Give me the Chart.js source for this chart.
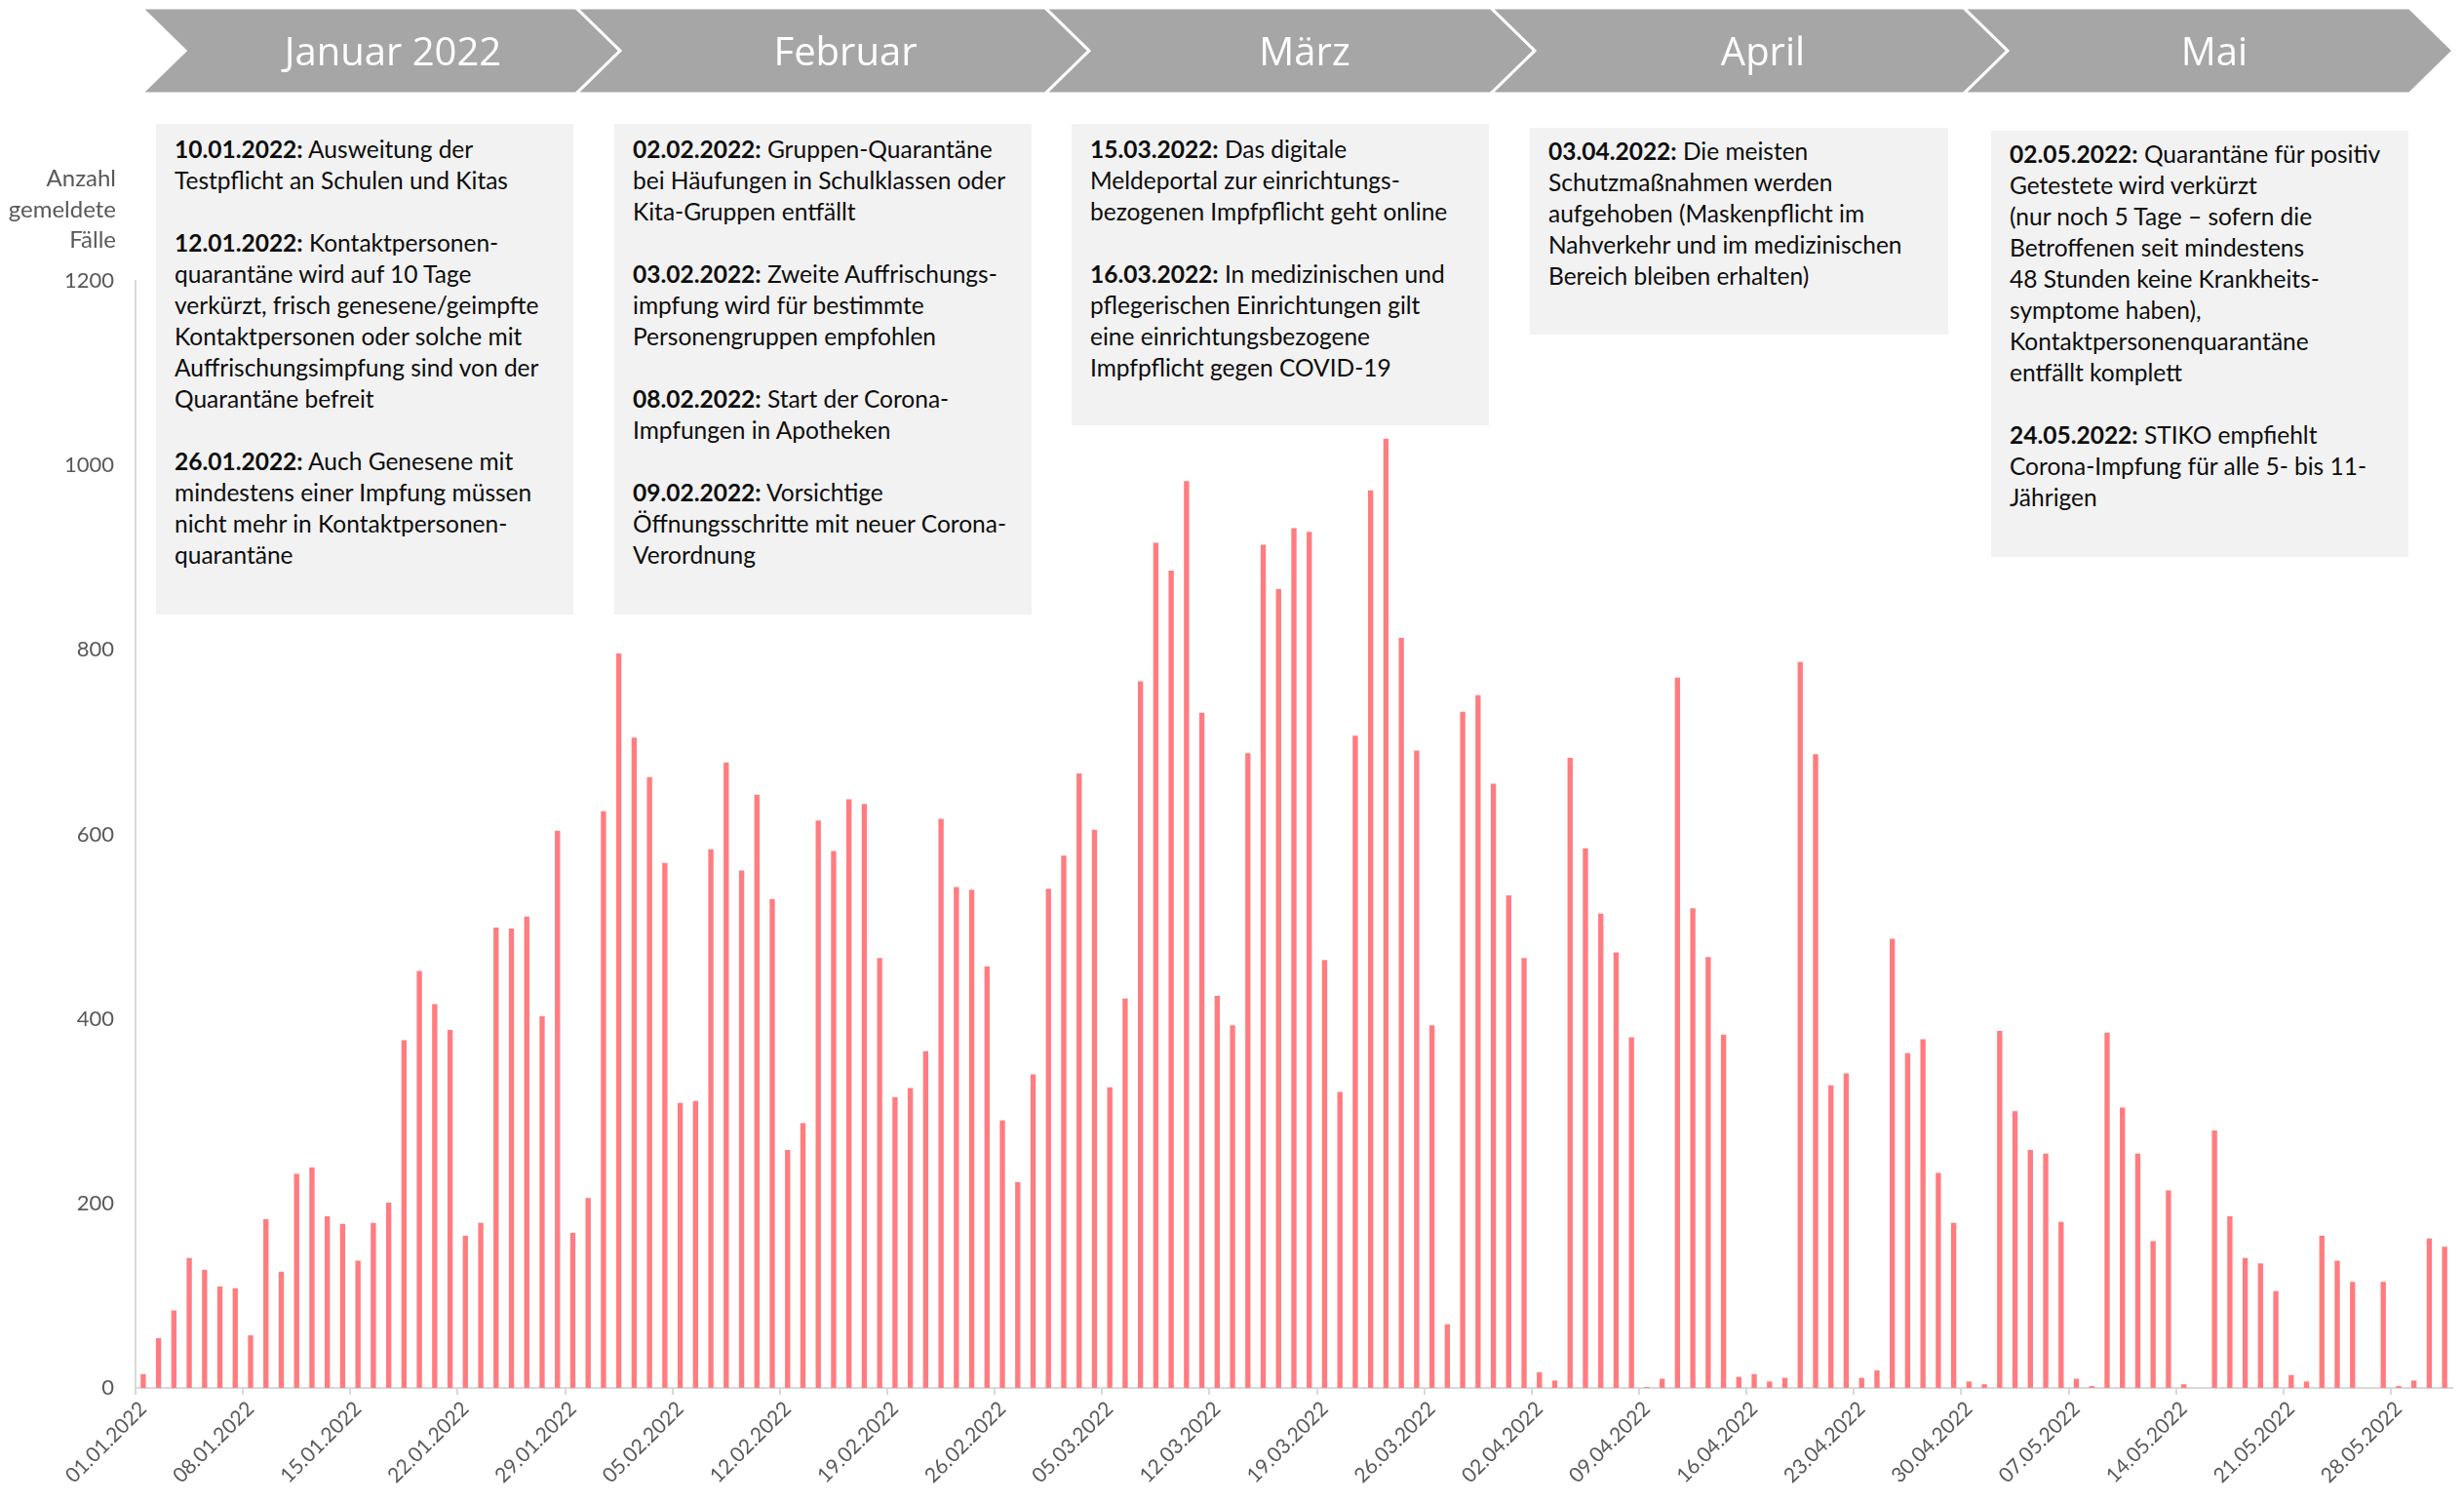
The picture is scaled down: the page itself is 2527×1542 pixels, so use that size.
<!DOCTYPE html>
<html lang="de">
<head>
<meta charset="utf-8">
<script src="https://cdn.jsdelivr.net/npm/chart.js@4.4.1/dist/chart.umd.min.js"></script>
<style>
html,body{margin:0;padding:0;background:#fff;}
#wrap{position:relative;width:2527px;height:1542px;overflow:hidden;background:#fff;}
#c{position:absolute;left:0;top:0;}
#chev{position:absolute;left:0;top:0;}
.mon{position:absolute;top:24px;height:56px;line-height:56px;width:400px;margin-left:-200px;text-align:center;color:#fff;font-family:"Open Sans",sans-serif;font-size:40px;}
.box{position:absolute;background:#f2f2f2;box-sizing:border-box;padding:10px 0 0 19px;font-family:Lato,sans-serif;font-size:24.5px;line-height:32px;color:#0d0d0d;white-space:nowrap;}
.box b{font-weight:700;}
#ytitle{position:absolute;left:0;top:166px;width:119px;text-align:right;font-family:Lato,sans-serif;font-size:24px;line-height:31.5px;color:#595959;}
</style>
</head>
<body>
<div id="wrap">
<canvas id="c" width="2527" height="1542"></canvas>
<svg id="chev" width="2527" height="110"></svg>
<div id="ytitle">Anzahl<br>gemeldete<br>Fälle</div>
<div class="box" style="left:160px;top:127px;width:428px;height:503px;"><b>10.01.2022:</b> Ausweitung der<br>Testpflicht an Schulen und Kitas<br><br><b>12.01.2022:</b> Kontaktpersonen-<br>quarantäne wird auf 10 Tage<br>verkürzt, frisch genesene/geimpfte<br>Kontaktpersonen oder solche mit<br>Auffrischungsimpfung sind von der<br>Quarantäne befreit<br><br><b>26.01.2022:</b> Auch Genesene mit<br>mindestens einer Impfung müssen<br>nicht mehr in Kontaktpersonen-<br>quarantäne</div>
<div class="box" style="left:630px;top:127px;width:428px;height:503px;"><b>02.02.2022:</b> Gruppen-Quarantäne<br>bei Häufungen in Schulklassen oder<br>Kita-Gruppen entfällt<br><br><b>03.02.2022:</b> Zweite Auffrischungs-<br>impfung wird für bestimmte<br>Personengruppen empfohlen<br><br><b>08.02.2022:</b> Start der Corona-<br>Impfungen in Apotheken<br><br><b>09.02.2022:</b> Vorsichtige<br>Öffnungsschritte mit neuer Corona-<br>Verordnung</div>
<div class="box" style="left:1099px;top:127px;width:428px;height:309px;"><b>15.03.2022:</b> Das digitale<br>Meldeportal zur einrichtungs-<br>bezogenen Impfpflicht geht online<br><br><b>16.03.2022:</b> In medizinischen und<br>pflegerischen Einrichtungen gilt<br>eine einrichtungsbezogene<br>Impfpflicht gegen COVID-19</div>
<div class="box" style="left:1569px;top:131px;width:429px;height:212px;padding-top:8px;"><b>03.04.2022:</b> Die meisten<br>Schutzmaßnahmen werden<br>aufgehoben (Maskenpflicht im<br>Nahverkehr und im medizinischen<br>Bereich bleiben erhalten)</div>
<div class="box" style="left:2042px;top:134px;width:428px;height:437px;padding-top:8px;"><b>02.05.2022:</b> Quarantäne für positiv<br>Getestete wird verkürzt<br>(nur noch 5 Tage – sofern die<br>Betroffenen seit mindestens<br>48 Stunden keine Krankheits-<br>symptome haben),<br>Kontaktpersonenquarantäne<br>entfällt komplett<br><br><b>24.05.2022:</b> STIKO empfiehlt<br>Corona-Impfung für alle 5- bis 11-<br>Jährigen</div>
</div>
<script>
// ---- data ----
const monthTitles = ['Januar 2022', 'Februar', 'März', 'April', 'Mai'];
const monthNumbers = ['01', '02', '03', '04', '05'];
const monthLengths = [31, 28, 31, 30, 31];
const casesJan = [15,54,84,141,128,110,108,57,183,126,232,239,186,178,138,179,201,377,452,416,388,165,179,499,498,511,403,604,168,206,625];
const casesFeb = [796,705,662,569,309,311,584,678,561,643,530,258,287,615,582,638,633,466,315,325,365,617,543,540,457,290,223,340];
const casesMar = [541,577,666,605,326,422,766,916,886,983,732,425,393,688,914,866,932,928,464,321,707,973,1029,813,691,393,69,733,751,655,534];
const casesApr = [466,17,8,683,585,514,472,380,1,10,770,520,467,383,12,15,7,11,787,687,328,341,11,19,487,363,378,233,179,7];
const casesMay = [4,387,300,258,254,180,10,2,385,304,254,159,214,4,0,279,186,141,135,105,14,7,165,138,115,0,115,2,8,162,153];
const tickLabels = ['01.01.2022','08.01.2022','15.01.2022','22.01.2022','29.01.2022','05.02.2022','12.02.2022','19.02.2022','26.02.2022','05.03.2022','12.03.2022','19.03.2022','26.03.2022','02.04.2022','09.04.2022','16.04.2022','23.04.2022','30.04.2022','07.05.2022','14.05.2022','21.05.2022','28.05.2022'];
const yTicks = [0, 200, 400, 600, 800, 1000, 1200];

// categories (one per day)
const categories = [];
monthLengths.forEach((n, m) => {
  for (let d = 1; d <= n; d++) categories.push(String(d).padStart(2, '0') + '.' + monthNumbers[m] + '.2022');
});
const values = [].concat(casesJan, casesFeb, casesMar, casesApr, casesMay);

// ---- chevron band (decoration) ----
const chevLeft = [145, 591, 1072, 1529, 2014];
const chevRight = [591, 1072, 1529, 2014, 2471];
const chevCenter = [403, 867, 1338, 1808, 2271];
const svg = document.getElementById('chev');
const D = 45, T = 8, B = 96, M = 52;
let html = '';
for (let i = 0; i < 5; i++) {
  const L = chevLeft[i], R = chevRight[i];
  html += `<polygon points="${L},${T} ${R},${T} ${R + D},${M} ${R},${B} ${L},${B} ${L + D},${M}" fill="#a6a6a6" stroke="#ffffff" stroke-width="3" stroke-linejoin="miter"/>`;
}
svg.innerHTML = html;
const wrap = document.getElementById('wrap');
monthTitles.forEach((t, i) => {
  const d = document.createElement('div');
  d.className = 'mon';
  d.style.left = chevCenter[i] + 'px';
  d.textContent = t;
  wrap.appendChild(d);
});

// ---- chart ----
new Chart(document.getElementById('c'), {
  type: 'bar',
  data: {
    labels: categories,
    datasets: [{
      data: values,
      backgroundColor: '#ff7c80',
      borderWidth: 0,
      barPercentage: 0.34,
      categoryPercentage: 1.0
    }]
  },
  options: {
    responsive: false,
    devicePixelRatio: 1,
    animation: false,
    layout: { padding: { top: 288, right: 9, bottom: 0, left: 0 } },
    plugins: { legend: { display: false }, tooltip: { enabled: false } },
    scales: {
      x: {
        type: 'category',
        offset: true,
        grid: {
          display: true,
          drawOnChartArea: false,
          drawTicks: true,
          tickLength: 7,
          offset: true,
          lineWidth: 2,
          color: ctx => (ctx.tick && tickLabels.includes(categories[ctx.index])) ? '#d9d9d9' : 'rgba(0,0,0,0)'
        },
        border: { display: true, color: '#d9d9d9', width: 2 },
        ticks: {
          autoSkip: false,
          maxRotation: 45,
          minRotation: 45,
          padding: 2,
          color: '#595959',
          font: { family: 'Lato', size: 21 },
          callback: (v, i) => tickLabels.includes(categories[i]) ? categories[i] : ''
        },
        afterFit: s => { s.height = 119; }
      },
      y: {
        min: yTicks[0],
        max: yTicks[yTicks.length - 1],
        afterBuildTicks: s => { s.ticks = yTicks.map(v => ({ value: v })); },
        grid: { display: false, drawTicks: false },
        border: { display: true, color: '#d9d9d9', width: 2 },
        ticks: {
          padding: 22,
          color: '#595959',
          font: { family: 'Lato', size: 22 },
          callback: v => String(v)
        },
        afterFit: s => { s.width = 139; }
      }
    }
  }
});
</script>
</body>
</html>
